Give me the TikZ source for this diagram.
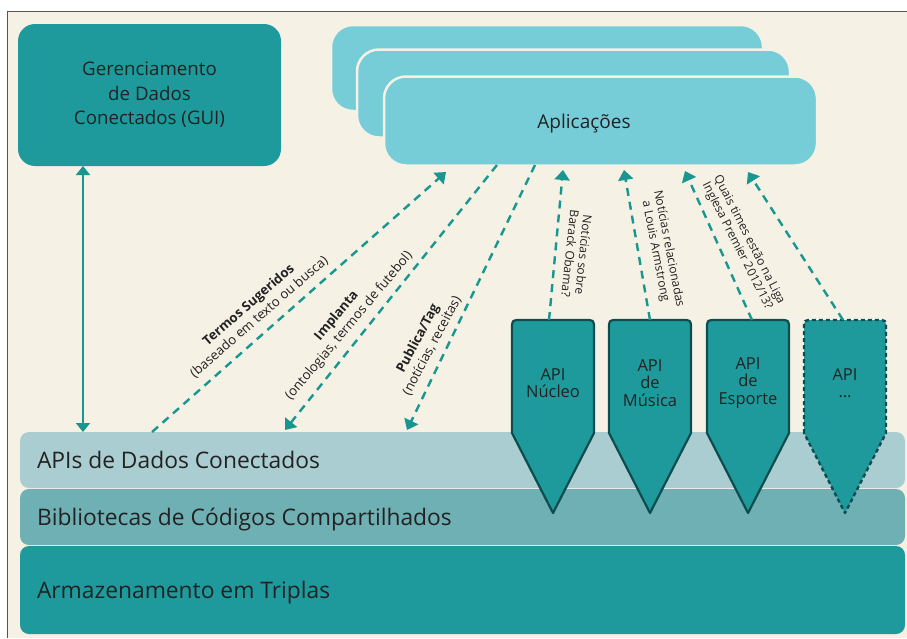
\documentclass[tikz,border=0pt]{standalone}
\usepackage{fontspec}
\setmainfont{Open Sans}
\usetikzlibrary{arrows.meta}
\definecolor{bgc}{HTML}{F5F1E4}
\definecolor{tealc}{HTML}{1F9A9C}
\definecolor{appc}{HTML}{76CDD8}
\definecolor{layA}{HTML}{AACDD2}
\definecolor{layB}{HTML}{6FB0B4}
\definecolor{arrc}{HTML}{17978F}
\definecolor{edgec}{HTML}{0F4C4E}
\definecolor{txtc}{HTML}{222222}
\definecolor{framec}{HTML}{555555}
\begin{document}
\begin{tikzpicture}[x=1pt,y=-1pt,
  every node/.style={text=txtc, inner sep=0pt, outer sep=0pt},
  layer/.style={rounded corners=9pt, minimum width=885pt, anchor=north west},
  laytext/.style={anchor=base west, font=\fontsize{22.8}{28}\selectfont},
  appbox/.style={fill=appc, draw=bgc, line width=2.5pt, rounded corners=22pt, anchor=north west},
  apishape/.style={fill=tealc, draw=edgec, line width=2.2pt, line join=round},
  apidash/.style={fill=tealc, draw=edgec, line width=2.4pt, dash pattern=on 4pt off 3pt, line join=round},
  apitext/.style={align=center, font=\fontsize{16.5}{17.5}\selectfont},
  tip/.style={-{Triangle[length=10pt,width=15pt]}},
  dasharr/.style={draw=arrc, line width=2.4pt, dash pattern=on 8pt off 6pt, tip},
  solarr/.style={draw=arrc, line width=2pt, {Triangle[length=9pt,width=14pt]}-{Triangle[length=9pt,width=14pt]}},
  lbl/.style={align=center, font=\fontsize{13.2}{16}\selectfont},
  rlbl/.style={align=center, font=\fontsize{12}{13.5}\selectfont}]
\useasboundingbox (0,0) rectangle (907,638);
\fill[white] (0,0) rectangle (907,638);
\fill[bgc] (7.5,11.5) rectangle (907,638);
\draw[framec, line width=1.2pt] (7.5,638) -- (7.5,11.5) -- (907,11.5);

% GUI box
\node[fill=tealc, rounded corners=17pt, minimum width=263pt, minimum height=142pt,
      align=center, font=\fontsize{18.7}{24.5}\selectfont] (gui) at (149.5,95)
      {Gerenciamento\\de Dados\\Conectados (GUI)};

% application stack
\node[appbox, minimum width=432pt, minimum height=86pt] (appsback) at (331,25) {};
\node[appbox, minimum width=433pt, minimum height=88pt] (appsmid) at (357,49.5) {};
\node[appbox, minimum width=433pt, minimum height=89pt] (apps) at (384,76.5) {};
\node[font=\fontsize{19}{22}\selectfont] (appstext) at (584,124) {Aplicações};

% layers
\node[layer, fill=layA, minimum height=56pt] (l1) at (20,432) {};
\node[layer, fill=layB, minimum height=56pt] (l2) at (20,489) {};
\node[layer, fill=tealc, minimum height=88pt] (l3) at (20,546) {};
\node[laytext] (l1t) at (37,468) {APIs de Dados Conectados};
\node[laytext] (l2t) at (37,525) {Bibliotecas de Códigos Compartilhados};
\node[laytext] (l3t) at (37,598) {Armazenamento em Triplas};

% API shapes
\path[apishape] (512,433) -- (512,329) .. controls (512,320) .. (521,320) -- (585,320) .. controls (594,320) .. (594,329) -- (594,433) -- (553,513) -- cycle;
\path[apishape] (609,433) -- (609,329) .. controls (609,320) .. (618,320) -- (682,320) .. controls (691,320) .. (691,329) -- (691,433) -- (650,513) -- cycle;
\path[apishape] (707,433) -- (707,329) .. controls (707,320) .. (716,320) -- (780,320) .. controls (789,320) .. (789,329) -- (789,433) -- (748,513) -- cycle;
\path[apidash] (804,433) -- (804,329) .. controls (804,320) .. (813,320) -- (877,320) .. controls (886,320) .. (886,329) -- (886,433) -- (845,513) -- cycle;
\node[apitext] (nucleo) at (553,383) {API\\Núcleo};
\node[apitext] (musica) at (650,383) {API\\de\\Música};
\node[apitext] (esporte) at (748,383) {API\\de\\Esporte};
\node[apitext] (outra) at (845,383) {API\\…};

% connector ends
\coordinate (gx) at (83,0);
\coordinate (a1) at (152,432);  \coordinate (b1) at (446,172);
\coordinate (a2) at (497,165);  \coordinate (b2) at (285,430);
\coordinate (a3) at (535,165);  \coordinate (b3) at (407,430);
\coordinate (a4) at (549,320);  \coordinate (b4) at (563,170);
\coordinate (a5) at (650,320);  \coordinate (b5) at (624,170);
\coordinate (a6) at (752,320);  \coordinate (b6) at (685,171);
\coordinate (a7) at (843,320);  \coordinate (b7) at (748,172);

\draw[solarr] (gx |- gui.south) -- (gx |- l1.north);
\draw[dasharr] (a1) -- (b1);
\draw[dasharr] (a2) -- (b2);
\draw[dasharr] (a3) -- (b3);
\draw[dasharr] (a4) -- (b4);
\draw[dasharr] (a5) -- (b5);
\draw[dasharr] (a6) -- (b6);
\draw[dasharr] (a7) -- (b7);

% labels
\node[lbl, rotate=41] (lab1) at (254,311) {\textbf{Termos Sugeridos}\\(baseado em texto ou busca)};
\node[lbl, rotate=50] (lab2) at (343,321) {\textbf{Implanta}\\(ontologias, termos de futebol)};
\node[lbl, rotate=62] (lab3) at (425,342) {\textbf{Publica/Tag}\\(notícias, receitas)};
\node[rlbl, rotate=-96] (lab4) at (577,254) {Notícias sobre\\Barack Obama?};
\node[rlbl, rotate=-79] (lab5) at (662,250) {Notícias relacionadas\\a Louis Armstrong};
\node[rlbl, rotate=-63] (lab6) at (743,243) {Quais times estão na Liga\\Inglesa Premier 2012/13?};
\end{tikzpicture}
\end{document}
